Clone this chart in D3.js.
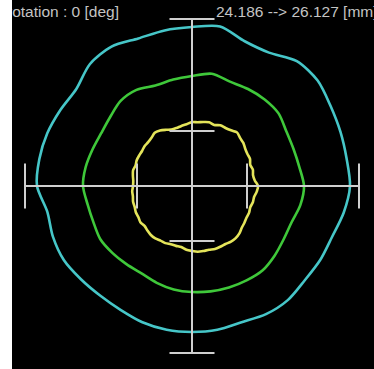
<!DOCTYPE html>
<html>
<head>
<meta charset="utf-8">
<script src="https://cdn.jsdelivr.net/npm/d3@7"></script>
<style>
  html, body { margin: 0; padding: 0; background: #ffffff; }
  svg { display: block; }
</style>
</head>
<body>
<svg id="chart" width="374" height="369"></svg>
<script>
// Roundness profiles: radius (mm) sampled around the part.
const radiusRange = [24.186, 26.127];   // inner / outer reference radius [mm]
const rotationDeg = 0;

const outerAngles = d3.range(0, 360, 10);   // degrees, counter-clockwise from +x
const outerProfile = [
  25.971, 25.954, 25.971, 26.006, 26.075, 26.058, 25.902, 25.902, 26.040, 25.988,
  25.971, 25.954, 26.023, 25.988, 25.850, 25.867, 25.902, 25.919, 25.919, 25.780,
  25.798, 25.798, 25.746, 25.711, 25.711, 25.746, 25.763, 25.763, 25.763, 25.746,
  25.798, 25.815, 25.780, 25.798, 25.815, 25.902
];

const middleAngles = d3.range(0, 360, 10);
const middleProfile = [
  25.174, 25.122, 25.105, 25.122, 25.191, 25.191, 25.174, 25.157, 25.209, 25.139,
  25.105, 25.087, 25.157, 25.157, 25.087, 25.053, 25.070, 25.105, 25.122, 25.070,
  25.053, 25.070, 25.035, 25.001, 24.983, 25.018, 25.053, 25.070, 25.087, 25.105,
  25.122, 25.139, 25.105, 25.070, 25.070, 25.139
];

const innerAngles = d3.range(0, 360, 5);
const innerProfile = [
  24.377, 24.325, 24.307, 24.325, 24.307, 24.342, 24.342, 24.359, 24.394, 24.411,
  24.446, 24.411, 24.394, 24.394, 24.359, 24.377, 24.359, 24.342, 24.342, 24.307,
  24.290, 24.273, 24.273, 24.307, 24.342, 24.359, 24.325, 24.307, 24.307, 24.290,
  24.290, 24.290, 24.273, 24.290, 24.273, 24.255, 24.255, 24.273, 24.273, 24.290,
  24.290, 24.307, 24.307, 24.325, 24.307, 24.325, 24.342, 24.342, 24.325, 24.325,
  24.307, 24.307, 24.307, 24.342, 24.359, 24.377, 24.377, 24.377, 24.394, 24.394,
  24.394, 24.411, 24.411, 24.394, 24.359, 24.342, 24.325, 24.325, 24.307, 24.325,
  24.325, 24.359
];

const seriesColors = ["#46c6c8", "#3fc83a", "#e4e45a"];

const W = 374, H = 369;
const plotLeft = 12;
const cx = 192, cy = 186;

const svg = d3.select("#chart");

svg.append("rect").attr("x", 0).attr("y", 0).attr("width", W).attr("height", H).attr("fill", "#ffffff");
svg.append("rect").attr("x", plotLeft).attr("y", 0).attr("width", W - plotLeft).attr("height", H).attr("fill", "#000000");

svg.append("clipPath").attr("id", "plotClip")
  .append("rect").attr("x", plotLeft).attr("y", 0).attr("width", W - plotLeft).attr("height", H);

const root = svg.append("g").attr("clip-path", "url(#plotClip)");

// radial scale: inner reference radius -> inner marker, outer -> outer marker
const r = d3.scaleLinear().domain(radiusRange).range([55, 167]);

const g = root.append("g").attr("transform", `translate(${cx},${cy})`);

const radial = d3.lineRadial()
  .angle(d => (90 - d[0] - rotationDeg) * Math.PI / 180)
  .radius(d => r(d[1]))
  .curve(d3.curveCardinalClosed.tension(0.2));

const series = [
  d3.zip(outerAngles, outerProfile),
  d3.zip(middleAngles, middleProfile),
  d3.zip(innerAngles, innerProfile)
];

g.selectAll("path.profile")
  .data(series)
  .join("path")
  .attr("class", "profile")
  .attr("d", radial)
  .attr("fill", "none")
  .attr("stroke", (d, i) => seriesColors[i])
  .attr("stroke-width", 2.6)
  .attr("stroke-linejoin", "round");

// crosshair and reference markers
const axisColor = "#cfcfcf";
const rOut = r(radiusRange[1]);
const rIn = r(radiusRange[0]);
const half = 22.5;

const cross = g.append("g").attr("stroke", axisColor).attr("stroke-width", 2).attr("fill", "none");
cross.append("line").attr("x1", -rOut).attr("x2", rOut).attr("y1", 0).attr("y2", 0);
cross.append("line").attr("x1", 0).attr("x2", 0).attr("y1", -rOut).attr("y2", rOut);

[rOut, rIn].forEach(rad => {
  cross.append("line").attr("x1", -half).attr("x2", half).attr("y1", -rad).attr("y2", -rad);
  cross.append("line").attr("x1", -half).attr("x2", half).attr("y1", rad).attr("y2", rad);
  cross.append("line").attr("x1", -rad).attr("x2", -rad).attr("y1", -half).attr("y2", half);
  cross.append("line").attr("x1", rad).attr("x2", rad).attr("y1", -half).attr("y2", half);
});

// header texts
const fmt = d3.format(".3f");
root.append("text")
  .attr("x", 7).attr("y", 17)
  .attr("font-family", "Liberation Sans, Arial, sans-serif")
  .attr("font-size", 15.5)
  .attr("fill", "#c4c4c4")
  .text(`rotation : ${rotationDeg} [deg]`);

root.append("text")
  .attr("x", 216).attr("y", 17)
  .attr("font-family", "Liberation Sans, Arial, sans-serif")
  .attr("font-size", 15.5)
  .attr("fill", "#c4c4c4")
  .text(`${fmt(radiusRange[0])} --> ${fmt(radiusRange[1])} [mm]`);
</script>
</body>
</html>
